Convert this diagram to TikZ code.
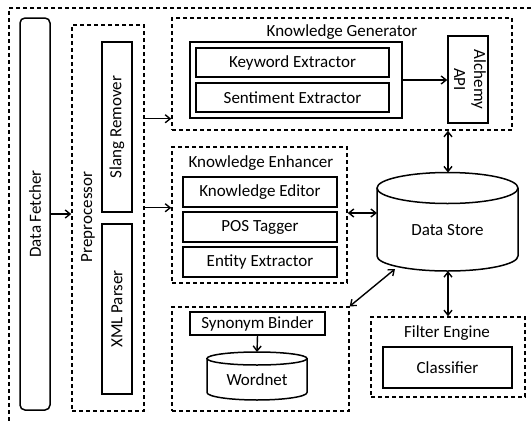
\documentclass[tikz,border=0pt]{standalone}
\usepackage{fontspec}
\setmainfont{Carlito}
\usepackage{graphicx}
\usetikzlibrary{arrows.meta}

\begin{document}
\begin{tikzpicture}[x=1pt,y=-1pt,
    every node/.style={font=\fontsize{17}{20}\selectfont},
    box/.style={draw,line width=1.5pt,inner sep=0pt},
    grp/.style={draw,line width=1.4pt,dash pattern=on 4pt off 3pt,inner sep=0pt},
    arr/.style={line width=1.4pt,-{Straight Barb[length=5pt,width=8pt]}},
    darr/.style={line width=1.4pt,{Straight Barb[length=5pt,width=8pt]}-{Straight Barb[length=5pt,width=8pt]}}]
    \useasboundingbox (0,0) rectangle (531,421);
    % outer frame
    \draw[grp] (531,8) -- (9,8) -- (9,421);
    % fetcher and preprocessor
    \node[box,rounded corners=5pt,minimum width=30pt,minimum height=392pt] (fetch) at (35,214) {\rotatebox{90}{Data Fetcher}};
    \node[grp,minimum width=72pt,minimum height=386pt] (pre) at (108,218) {};
    \node (prelbl) at (88,217) {\rotatebox{90}{Preprocessor}};
    \node[box,minimum width=30pt,minimum height=170pt] (slang) at (117,127) {\rotatebox{90}{Slang Remover}};
    \node[box,minimum width=30pt,minimum height=170pt] (xml) at (117,309) {\rotatebox{90}{XML Parser}};
    % knowledge generator
    \node[grp,minimum width=340pt,minimum height=112pt] (kg) at (342,74) {};
    \node (kglbl) at (342,32) {Knowledge Generator};
    \node[box,minimum width=212pt,minimum height=76pt] (kgin) at (296,80) {};
    \node[box,minimum width=193pt,minimum height=29pt] (kw) at (292.5,62.5) {Keyword Extractor};
    \node[box,minimum width=193pt,minimum height=29pt] (sent) at (292.5,97.5) {Sentiment Extractor};
    \node[box,minimum width=40pt,minimum height=87pt] (alch) at (468,79.5) {\rotatebox{-90}{\begin{tabular}{@{}c@{}}Alchemy\\API\end{tabular}}};
    % knowledge enhancer
    \node[grp,minimum width=175pt,minimum height=136pt] (ke) at (259.5,215) {};
    \node (kelbl) at (261,163) {Knowledge Enhancer};
    \node[box,minimum width=154pt,minimum height=30pt] (ked) at (260,192) {Knowledge Editor};
    \node[box,minimum width=154pt,minimum height=30pt] (pos) at (260,227) {POS Tagger};
    \node[box,minimum width=154pt,minimum height=30pt] (ent) at (260,262) {Entity Extractor};
    % data store
    \draw[box] (377,188) -- (377,256) .. controls (377,264.3) and (408.6,271) .. (447.5,271)
      .. controls (486.4,271) and (518,264.3) .. (518,256) -- (518,188);
    \draw[box] (447.5,188) ellipse[x radius=70.5,y radius=15.5];
    \node (store) at (447.5,230) {Data Store};
    \coordinate (dstop) at (448,172.5);
    \coordinate (dsbot) at (448,271);
    \coordinate (dsleft) at (377,213);
    \coordinate (dsbl) at (395,269);
    % wordnet group
    \node[grp,minimum width=177pt,minimum height=104pt] (syngrp) at (260.5,359) {};
    \node[box,minimum width=135pt,minimum height=23pt] (syn) at (257.5,323.5) {Synonym Binder};
    \draw[box] (207,358.5) -- (207,392.5) .. controls (207,396.6) and (229.4,400) .. (257,400)
      .. controls (284.6,400) and (307,396.6) .. (307,392.5) -- (307,358.5);
    \draw[box] (257,358.5) ellipse[x radius=50,y radius=6.5];
    \node (wn) at (257,380) {Wordnet};
    \coordinate (wntop) at (257,352);
    % filter engine
    \node[grp,minimum width=154pt,minimum height=80pt] (fe) at (448,357) {};
    \node (felbl) at (447,333) {Filter Engine};
    \node[box,minimum width=129pt,minimum height=41pt] (cls) at (447.5,367.5) {Classifier};
    % connectors
    \draw[arr] (fetch.east) -- (fetch.east -| pre.west);
    \draw[arr] (pre.east |- kgin.south) -- (kg.west |- kgin.south);
    \draw[arr] (pre.east |- ked.south) -- (ke.west |- ked.south);
    \draw[arr] (kgin.east) -- (kgin.east -| alch.west);
    \draw[darr] (kg.south -| dstop) -- (dstop);
    \draw[darr] (ke.east |- dsleft) -- (dsleft);
    \draw[darr] (dsbl) -- (syngrp.north east);
    \draw[darr] (dsbot) -- (dsbot |- fe.north);
    \draw[arr] (syn.south) -- (wntop);
\end{tikzpicture}
\end{document}
